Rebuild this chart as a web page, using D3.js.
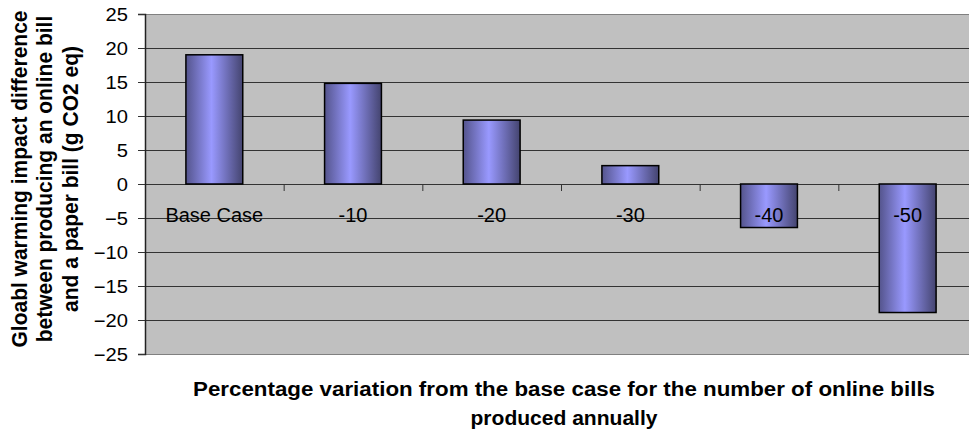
<!DOCTYPE html>
<html>
<head>
<meta charset="utf-8">
<script src="https://cdn.jsdelivr.net/npm/d3@7"></script>
<style>
  html, body { margin: 0; padding: 0; background: #fff; }
  svg { display: block; font-family: "Liberation Sans", Arial, sans-serif; }
</style>
</head>
<body>
<svg id="chart" width="969" height="435"></svg>
<script>
// Scenario categories (percentage change in online bills produced)
const categories = ["Base Case", "-10", "-20", "-30", "-40", "-50"];
// Global warming impact difference, online bill minus paper bill (g CO2 eq)
const values = [19, 14.8, 9.4, 2.7, -6.4, -18.9];
// Y axis ticks
const yTicks = [25, 20, 15, 10, 5, 0, -5, -10, -15, -20, -25];
const yTitleLines = ["Gloabl warming impact difference", "between producing an online bill", "and a paper bill (g CO2 eq)"];
const xTitleLines = ["Percentage variation from the base case for the number of online bills", "produced annually"];

const svg = d3.select("#chart");
const plot = { left: 145, right: 977, top: 14, bottom: 354 };

const x = d3.scaleBand()
  .domain(categories)
  .range([plot.left, plot.right])
  .paddingInner(0.59)
  .paddingOuter(0.295);
const step = x.step();

const y = d3.scaleLinear().domain([-25, 25]).range([plot.bottom, plot.top]);

// Bar shading: dark edges, bright centre
const defs = svg.append("defs");
const grad = defs.append("linearGradient").attr("id", "barFill")
  .attr("x1", "0%").attr("x2", "100%").attr("y1", "0%").attr("y2", "0%");
grad.append("stop").attr("offset", "0%").attr("stop-color", "#54548c");
grad.append("stop").attr("offset", "45%").attr("stop-color", "#9999ff");
grad.append("stop").attr("offset", "100%").attr("stop-color", "#44446f");

defs.append("clipPath").attr("id", "clipAll")
  .append("rect").attr("x", 0).attr("y", 0).attr("width", 969).attr("height", 435);

const g = svg.append("g").attr("clip-path", "url(#clipAll)");

// Plot background
g.append("rect")
  .attr("x", plot.left).attr("y", plot.top)
  .attr("width", plot.right - plot.left).attr("height", plot.bottom - plot.top)
  .attr("fill", "#c0c0c0");

// Horizontal gridlines
g.append("g").selectAll("line")
  .data(yTicks)
  .join("line")
  .attr("x1", plot.left).attr("x2", plot.right)
  .attr("y1", d => y(d) + 0.5).attr("y2", d => y(d) + 0.5)
  .attr("stroke", d => (d === 25 || d === -25) ? "#808080" : "#333")
  .attr("stroke-width", 1.2);

// Bars
g.append("g").selectAll("rect")
  .data(values)
  .join("rect")
  .attr("x", (d, i) => x(categories[i]))
  .attr("width", x.bandwidth())
  .attr("y", d => y(Math.max(0, d)))
  .attr("height", d => Math.abs(y(d) - y(0)))
  .attr("fill", "url(#barFill)")
  .attr("stroke", "#000")
  .attr("stroke-width", 1.5);

// Category tick marks along the zero line
g.append("g").selectAll("line")
  .data(d3.range(1, categories.length + 1))
  .join("line")
  .attr("x1", i => plot.left + i * step + 0.5)
  .attr("x2", i => plot.left + i * step + 0.5)
  .attr("y1", y(0)).attr("y2", y(0) + 7)
  .attr("stroke", "#333").attr("stroke-width", 1);

// Category labels sit below the zero line, inside the plot
g.append("g").selectAll("text")
  .data(categories)
  .join("text")
  .attr("x", d => x(d) + x.bandwidth() / 2)
  .attr("y", 222)
  .attr("text-anchor", "middle")
  .attr("font-size", 20)
  .attr("fill", "#000")
  .text(d => d);

// Y axis line and ticks
const yAxis = g.append("g").attr("transform", `translate(${plot.left},0)`)
  .call(d3.axisLeft(y).tickValues(yTicks).tickSize(7).tickFormat(d3.format("d")));
yAxis.select(".domain").attr("stroke", "#222").attr("stroke-width", 1.5);
yAxis.selectAll(".tick line").attr("stroke", "#333");
yAxis.selectAll(".tick text")
  .attr("font-size", 18)
  .attr("font-family", "Liberation Sans, Arial, sans-serif")
  .attr("fill", "#000")
  .attr("x", 0).attr("dy", null)
  .attr("dominant-baseline", "central")
  .attr("transform", "translate(-17,0) scale(1.12,1)");

// Y axis title (three rotated lines)
const yTitle = g.append("text")
  .attr("transform", "translate(0,179) scale(1.08,1) rotate(-90)")
  .attr("text-anchor", "middle")
  .attr("font-weight", "bold")
  .attr("font-size", 21)
  .attr("fill", "#000");
yTitleLines.forEach((t, i) => {
  yTitle.append("tspan").attr("x", 0).attr("y", 25 + i * 23.5).text(t);
});

// X axis title
const xTitleLens = [742, 187];
xTitleLines.forEach((t, i) => {
  g.append("text")
    .attr("x", 564).attr("y", 396 + i * 28.5)
    .attr("text-anchor", "middle")
    .attr("font-weight", "bold")
    .attr("font-size", 20)
    .attr("textLength", xTitleLens[i])
    .attr("lengthAdjust", "spacingAndGlyphs")
    .attr("fill", "#000")
    .text(t);
});
</script>
</body>
</html>
